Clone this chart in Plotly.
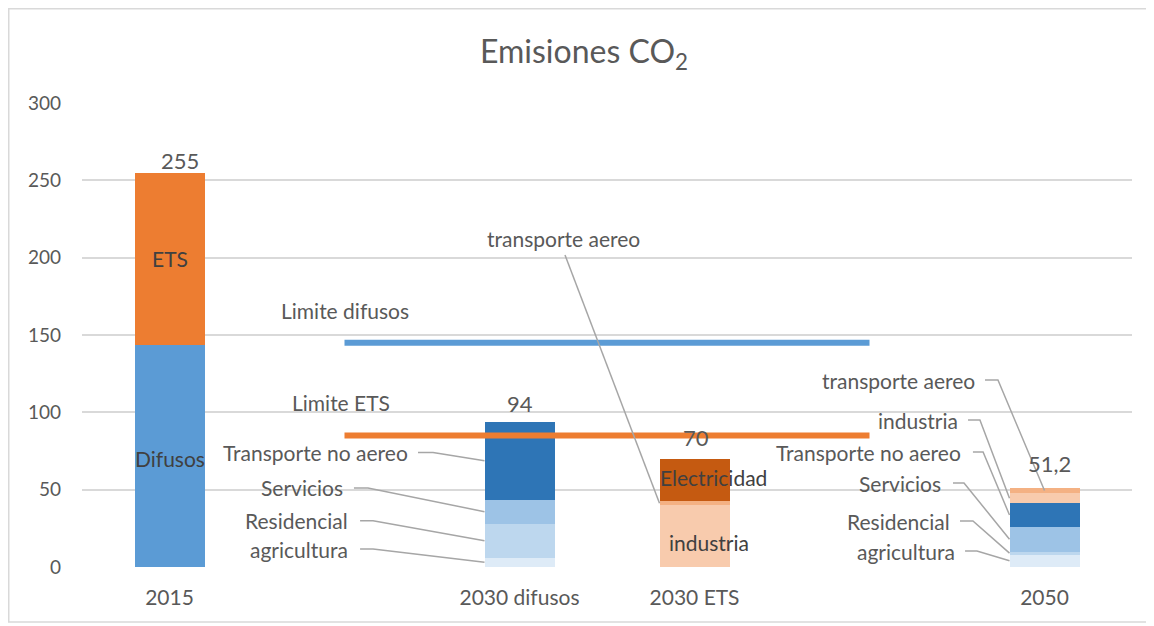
import plotly.graph_objects as go

# ---------------- data ----------------
categories = ["2015", "", "2030 difusos", "2030 ETS", "", "2050"]
tick_labels = ["2015", "2030 difusos", "2030 ETS", "2050"]

difusos = [143.5, None, None, None, None, None]
ets = [111.5, None, None, None, None, None]
agricultura = [None, None, 6, None, None, 8]
residencial = [None, None, 22, None, None, 2]
servicios = [None, None, 15.5, None, None, 16]
transporte_no_aereo = [None, None, 50.5, None, None, 15.2]
industria = [None, None, None, 40, None, 6.5]
transporte_aereo = [None, None, None, 2.5, None, 3.5]
electricidad = [None, None, None, 27.5, None, None]

totals = [255, None, 94, 70, None, 51.2]
total_labels = ["255", "", "94", "70", "", "51,2"]

limite_difusos = [None, 145, 145, 145, 145, None]
limite_ets = [None, 85, 85, 85, 85, None]

# ---------------- styling ----------------
FONT = "Lato"
GREY = "#595959"
DARK = "#404040"
LEADER = "#A6A6A6"
BAR_W = 0.4
LBL = 21

series = [
    ("Difusos", difusos, "#5B9BD5"),
    ("ETS", ets, "#ED7D31"),
    ("agricultura", agricultura, "#DEEBF7"),
    ("Residencial", residencial, "#BDD7EE"),
    ("Servicios", servicios, "#9DC3E6"),
    ("Transporte no aereo", transporte_no_aereo, "#2E75B6"),
    ("industria", industria, "#F8CBAD"),
    ("transporte aereo", transporte_aereo, "#F4B183"),
    ("Electricidad", electricidad, "#C55A11"),
]

xs = list(range(len(categories)))
tick_pos = [i for i, c in enumerate(categories) if c]

fig = go.Figure()

# stacked bars + segment midpoints
base = [0.0] * len(xs)
mids = {}
for name, vals, col in series:
    fig.add_trace(go.Bar(x=xs, y=vals, width=BAR_W, name=name,
                         marker=dict(color=col, line=dict(width=0)),
                         hoverinfo="skip"))
    m = {}
    for i, v in enumerate(vals):
        if v is not None:
            m[i] = base[i] + v / 2
            base[i] += v
    mids[name] = m

# limit lines
for vals, col in [(limite_difusos, "#5B9BD5"), (limite_ets, "#ED7D31")]:
    fig.add_trace(go.Scatter(x=xs, y=vals, mode="lines",
                             line=dict(color=col, width=6),
                             hoverinfo="skip", showlegend=False))

annotations = []

def ann(x, y, text, size=LBL, color=GREY, **kw):
    d = dict(x=x, y=y, xref="x", yref="y", text=text, showarrow=False,
             font=dict(family=FONT, size=size, color=color))
    d.update(kw)
    annotations.append(d)

# limit labels (layout offsets above first point)
ann(1, limite_difusos[1], "Limite difusos", yshift=32)
ann(1, limite_ets[1], "Limite ETS", yshift=33, xshift=-4)

# labels inside 2015 bar
ann(0, mids["ETS"][0], "ETS", color=DARK)
ann(0, mids["Difusos"][0], "Difusos", color=DARK, yshift=-2)

# labels on 2030 ETS bar
ann(3 - BAR_W / 2, mids["Electricidad"][3], "Electricidad", color=DARK,
    xanchor="left", xshift=-2, yshift=3)
ann(3 - BAR_W / 2, mids["industria"][3], "industria", color=DARK,
    xanchor="left", xshift=7, yshift=-6)

# totals
total_label_y = [263.1, None, 105.4, 84.0, None, 67.2]
total_xshift = [10, 0, 0, 1, 0, 5]
for i, t in enumerate(totals):
    if t is not None:
        ann(i, total_label_y[i], total_labels[i], size=22, xshift=total_xshift[i])

# callouts with leader lines:
# (series, bar index, label y, text end x, stub start, stub end, target at centre?)
callouts = [
    ("Transporte no aereo", 2, 74.0, 1.374, 1.420, 1.506, False),
    ("Servicios", 2, 51.1, 1.003, 1.054, 1.134, False),
    ("Residencial", 2, 29.9, 1.031, 1.089, 1.163, False),
    ("agricultura", 2, 11.6, 1.031, 1.089, 1.163, False),
    ("transporte aereo", 5, 120.9, 4.614, 4.660, 4.734, True),
    ("industria", 5, 95.0, 4.517, 4.563, 4.631, False),
    ("Transporte no aereo", 5, 74.3, 4.534, 4.591, 4.649, False),
    ("Servicios", 5, 54.3, 4.420, 4.477, 4.540, False),
    ("Residencial", 5, 29.7, 4.471, 4.517, 4.591, False),
    ("agricultura", 5, 10.3, 4.500, 4.546, 4.614, False),
]
for name, i, ly, tx, s0, s1, centre in callouts:
    ann(tx, ly, name, xanchor="right")
    tx_end = i if centre else i - BAR_W / 2
    fig.add_trace(go.Scatter(x=[s0, s1, tx_end], y=[ly, ly, mids[name][i]],
                             mode="lines", line=dict(color=LEADER, width=1.5),
                             hoverinfo="skip", showlegend=False))

# transporte aereo callout for 2030 ETS (label above, line down)
ta_label_x, ta_label_y = 2.249, 212.7
ann(ta_label_x, ta_label_y, "transporte aereo")
fig.add_trace(go.Scatter(x=[2.26, 3 - BAR_W / 2],
                         y=[ta_label_y - 11, mids["transporte aereo"][3]],
                         mode="lines", line=dict(color=LEADER, width=1.5),
                         hoverinfo="skip", showlegend=False))

# figure geometry (page has an 8px body margin)
W, H = 1146, 618
L, R, T, B = 74, 22, 95, 59
pw, ph = W - L - R, H - T - B
shapes = [dict(type="rect", xref="paper", yref="paper",
               x0=(0.75 - L) / pw, x1=(W - 4 - L) / pw,
               y0=(T + ph - (H - 4)) / ph, y1=(T + ph - 0.75) / ph,
               line=dict(color="#D9D9D9", width=1.5), fillcolor="rgba(0,0,0,0)",
               layer="below")]

fig.update_layout(
    width=W, height=H,
    barmode="stack",
    showlegend=False,
    plot_bgcolor="white", paper_bgcolor="white",
    margin=dict(l=L, r=R, t=T, b=B, pad=0),
    title=dict(text="Emisiones CO<sub>2</sub>", x=576 / W, xref="container",
               xanchor="center", y=1 - 44 / H, yanchor="middle",
               font=dict(family=FONT, size=32, color=GREY)),
    xaxis=dict(range=[-0.5, 5.5], tickmode="array", tickvals=tick_pos,
               ticktext=tick_labels, showgrid=False, zeroline=False,
               showline=False, ticks="", ticklabelstandoff=16,
               tickfont=dict(family=FONT, size=21, color=GREY), fixedrange=True),
    yaxis=dict(range=[0, 300], dtick=50, showgrid=True, gridcolor="#D9D9D9",
               gridwidth=1.5, zeroline=False, showline=False, ticks="",
               ticklabelstandoff=20,
               tickfont=dict(family=FONT, size=19, color=GREY), fixedrange=True),
    annotations=annotations,
    shapes=shapes,
)

fig.write_html("out.html")
